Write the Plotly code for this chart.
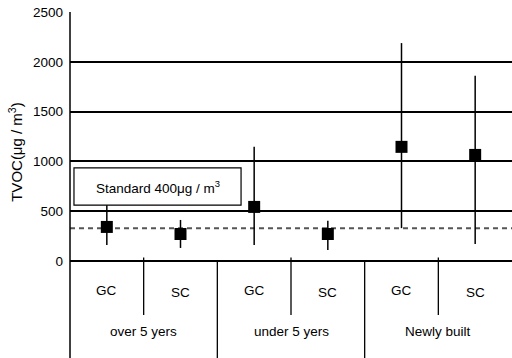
import plotly.graph_objects as go

categories = ["GC", "SC", "GC", "SC", "GC", "SC"]
groups = ["over 5 yers", "under 5 yers", "Newly built"]
means = [342, 271, 543, 271, 1146, 1065]
upper = [600, 412, 1146, 405, 2188, 1859]
lower = [161, 131, 161, 110, 330, 171]
standard_line = 330
standard_label = "Standard 400μg / m<sup>3</sup>"
y_ticks = [0, 500, 1000, 1500, 2000, 2500]

xs = list(range(len(categories)))
err_plus = [u - m for u, m in zip(upper, means)]
err_minus = [m - l for m, l in zip(means, lower)]

fig = go.Figure()
fig.add_trace(go.Scatter(
    x=xs, y=means, mode="markers",
    marker=dict(symbol="square", size=12, color="black"),
    error_y=dict(type="data", symmetric=False, array=err_plus, arrayminus=err_minus,
                 width=0, thickness=1.5, color="black"),
    showlegend=False, cliponaxis=False,
))

shapes = []
shapes.append(dict(type="line", xref="paper", yref="y", x0=0, x1=1, y0=standard_line, y1=standard_line,
                   line=dict(color="#555555", width=2, dash="5px,4px"), layer="below"))
shapes.append(dict(type="line", xref="paper", yref="paper", x0=0, x1=0, y0=1, y1=-0.39,
                   line=dict(color="black", width=1.5)))
for gx in [1.5, 3.5]:
    shapes.append(dict(type="line", xref="x", yref="paper", x0=gx, x1=gx, y0=0, y1=-0.39,
                       line=dict(color="black", width=1.3)))
for sx in [0.5, 2.5, 4.5]:
    shapes.append(dict(type="line", xref="x", yref="paper", x0=sx, x1=sx, y0=0.014, y1=-0.217,
                       line=dict(color="black", width=1.3)))
shapes.append(dict(type="rect", xref="paper", yref="y", x0=0.009, x1=0.387, y0=560, y1=934,
                   fillcolor="white", line=dict(color="black", width=1.2), layer="above"))

annotations = []
for i, c in enumerate(categories):
    annotations.append(dict(x=i, y=-0.12 if c == "GC" else -0.128, xref="x", yref="paper", text=c,
                            xanchor="center", yanchor="middle",
                            showarrow=False, font=dict(size=13.5, color="black")))
for gi, g in enumerate(groups):
    annotations.append(dict(x=gi * 2 + 0.5, y=-0.285, xref="x", yref="paper", text=g,
                            xanchor="center", yanchor="middle",
                            showarrow=False, font=dict(size=13.5, color="black")))
annotations.append(dict(x=0.198, y=747, xref="paper", yref="y", text=standard_label,
                        xanchor="center", yanchor="middle",
                        showarrow=False, font=dict(size=13.5, color="black")))
annotations.append(dict(x=-0.125, y=1094, xref="paper", yref="y", text="TVOC(μg / m<sup>3</sup>)",
                        xanchor="center", yanchor="middle", textangle=-90,
                        showarrow=False, font=dict(size=15, color="black")))

fig.update_layout(
    width=512, height=358,
    margin=dict(l=70, r=0, t=12, b=97),
    paper_bgcolor="white", plot_bgcolor="white",
    font=dict(family="Liberation Sans, Arial, sans-serif", color="black"),
    xaxis=dict(range=[-0.5, 5.5], showticklabels=False, showgrid=False, zeroline=False,
               ticks="", showline=False, automargin=False),
    yaxis=dict(range=[0, 2500], tickvals=y_ticks, showgrid=True, gridcolor="black", gridwidth=1.5,
               zeroline=True, zerolinecolor="black", zerolinewidth=1.5,
               tickfont=dict(size=13.5, color="black"), ticks="", ticklen=0, ticklabelstandoff=6,
               showline=False, automargin=False),
    shapes=shapes, annotations=annotations,
)

fig.write_html("out.html", config={"displayModeBar": False},
               post_script="document.body.style.margin='0';")
